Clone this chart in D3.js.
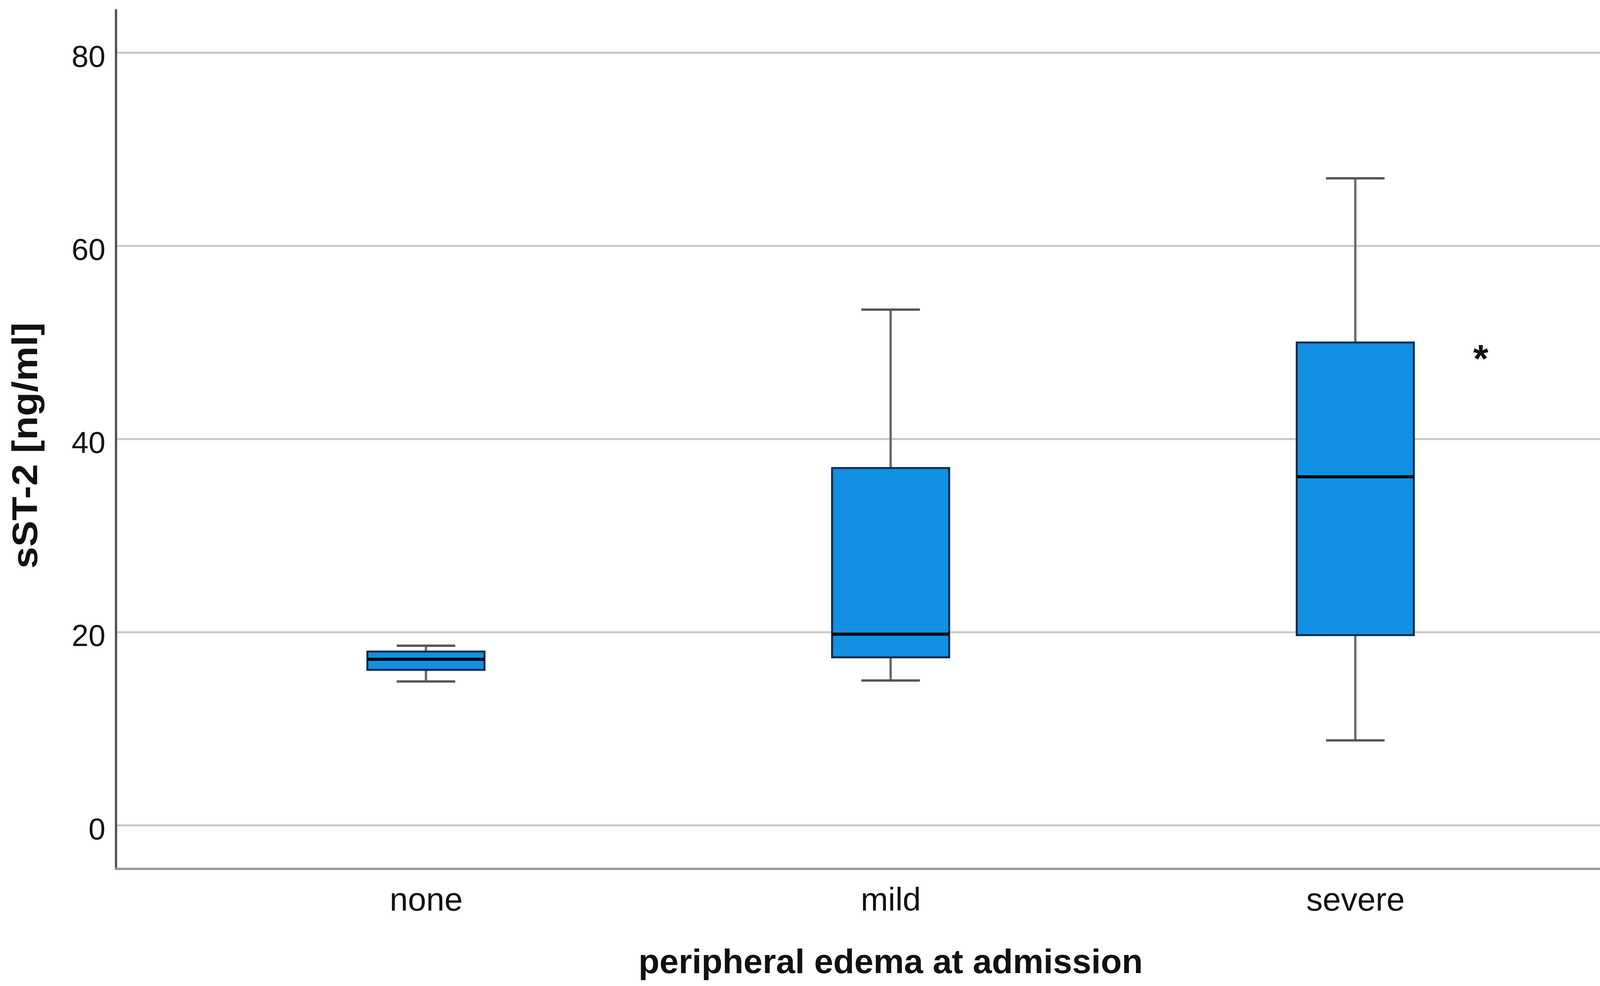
<!DOCTYPE html>
<html>
<head>
<meta charset="utf-8">
<script src="https://cdn.jsdelivr.net/npm/d3@7"></script>
<style>
  body { margin: 0; background: #fff; }
  svg { display: block; }
</style>
</head>
<body>
<div id="chart"></div>
<script>
// data
const categories = ["none", "mild", "severe"]
const whiskerLow = [14.9, 15.0, 8.8]
const q1 = [16.1, 17.4, 19.7]
const median = [17.2, 19.8, 36.1]
const q3 = [18.0, 37.0, 50.0]
const whiskerHigh = [18.6, 53.4, 67.0]
const outlierCats = ["severe"]
const outlierValues = [48.6]
const yTicks = [0, 20, 40, 60, 80]

const width = 4290, height = 2523
const left = 297, right = 4263, gridEnd = 4257

const svg = d3.select("#chart").append("svg")
  .attr("width", width)
  .attr("height", height)

const x = d3.scalePoint().domain(categories).range([left, right]).padding(0.667)
const y = d3.scaleLinear().domain([0, 80]).range([2112, 135])
const yBottom = y(-4.5), yTop = y(84.5)
const boxW = x.step() * 0.252
const capW = boxW * 0.5

// gridlines
svg.append("g").selectAll("line")
  .data(yTicks).enter()
  .append("line")
  .attr("x1", left).attr("x2", gridEnd)
  .attr("y1", d => y(d)).attr("y2", d => y(d))
  .attr("stroke", "#c8c8c8")
  .attr("stroke-width", 5)

// y axis
const yAxis = svg.append("g")
  .attr("transform", `translate(${left},0)`)
  .call(d3.axisLeft(y).tickValues(yTicks).tickSize(0).tickPadding(27))
yAxis.select(".domain").remove()
yAxis.selectAll("text")
  .attr("font-family", "Liberation Sans, Arial, sans-serif")
  .attr("font-size", 78)
  .attr("fill", "#111")
  .attr("dy", "0.45em")
svg.append("line")
  .attr("x1", left).attr("x2", left)
  .attr("y1", yTop).attr("y2", yBottom)
  .attr("stroke", "#555")
  .attr("stroke-width", 6)

// x axis
const xAxis = svg.append("g")
  .attr("transform", `translate(0,${yBottom})`)
  .call(d3.axisBottom(x).tickSize(0))
xAxis.select(".domain").remove()
xAxis.selectAll("text")
  .attr("font-family", "Liberation Sans, Arial, sans-serif")
  .attr("font-size", 84)
  .attr("fill", "#111")
  .attr("y", 107)
  .attr("dy", 0)
svg.append("line")
  .attr("x1", left - 3).attr("x2", gridEnd)
  .attr("y1", yBottom).attr("y2", yBottom)
  .attr("stroke", "#999")
  .attr("stroke-width", 6)

// boxes
const boxes = svg.append("g").selectAll("g")
  .data(categories).enter()
  .append("g")

boxes.append("line")
  .attr("x1", d => x(d)).attr("x2", d => x(d))
  .attr("y1", (d, i) => y(whiskerHigh[i]))
  .attr("y2", (d, i) => y(whiskerLow[i]))
  .attr("stroke", "#6a6a6a")
  .attr("stroke-width", 6)

boxes.selectAll(".cap")
  .data((d, i) => [[d, whiskerHigh[i]], [d, whiskerLow[i]]]).enter()
  .append("line")
  .attr("x1", d => x(d[0]) - capW / 2).attr("x2", d => x(d[0]) + capW / 2)
  .attr("y1", d => y(d[1])).attr("y2", d => y(d[1]))
  .attr("stroke", "#555")
  .attr("stroke-width", 6)

boxes.append("rect")
  .attr("x", d => x(d) - boxW / 2)
  .attr("width", boxW)
  .attr("y", (d, i) => y(q3[i]))
  .attr("height", (d, i) => y(q1[i]) - y(q3[i]))
  .attr("fill", "#1290e4")
  .attr("stroke", "#0d2a48")
  .attr("stroke-width", 5)

boxes.append("line")
  .attr("x1", d => x(d) - boxW / 2).attr("x2", d => x(d) + boxW / 2)
  .attr("y1", (d, i) => y(median[i])).attr("y2", (d, i) => y(median[i]))
  .attr("stroke", "#050a10")
  .attr("stroke-width", 8)

// extreme outlier marker
svg.append("g").selectAll("text")
  .data(outlierValues).enter()
  .append("text")
  .attr("x", (d, i) => x(outlierCats[i]) + x.step() * 0.27)
  .attr("y", d => y(d) + 41)
  .attr("text-anchor", "middle")
  .attr("font-family", "Liberation Sans, Arial, sans-serif")
  .attr("font-weight", "bold")
  .attr("font-size", 100)
  .attr("fill", "#111")
  .text("*")

// axis titles
svg.append("text")
  .attr("x", (left + right) / 2)
  .attr("y", 2490)
  .attr("text-anchor", "middle")
  .attr("font-family", "Liberation Sans, Arial, sans-serif")
  .attr("font-weight", "bold")
  .attr("font-size", 88)
  .attr("fill", "#111")
  .text("peripheral edema at admission")

svg.append("text")
  .attr("transform", "translate(95,1140) rotate(-90)")
  .attr("text-anchor", "middle")
  .attr("font-family", "Liberation Sans, Arial, sans-serif")
  .attr("font-weight", "bold")
  .attr("font-size", 90)
  .attr("textLength", 630)
  .attr("lengthAdjust", "spacingAndGlyphs")
  .attr("fill", "#111")
  .text("sST-2 [ng/ml]")
</script>
</body>
</html>
